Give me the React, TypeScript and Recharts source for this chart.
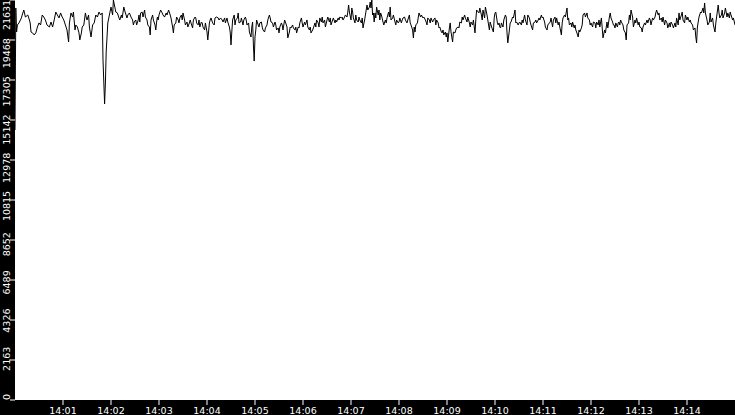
import React from 'react';
import { LineChart, Line, XAxis, YAxis, CartesianGrid } from 'recharts';

// sample times, seconds after 14:00:00
const sampleSecs = [
  0, 1, 2, 3, 5, 8, 9, 11, 13, 16,
  18, 19, 20, 22, 24, 26, 28, 30, 32, 34,
  36, 38, 40, 43, 45, 47, 49, 51, 53, 55,
  57, 59, 61, 63, 65, 67, 68, 70, 72, 73,
  75, 76, 78, 80, 81, 83, 84, 86, 88, 89,
  90, 92, 93, 95, 97, 99, 101, 103, 105, 107,
  109, 110, 112, 113, 114, 116, 118, 120, 122, 123,
  125, 126, 128, 130, 131, 133, 134, 136, 138, 140,
  141, 143, 145, 147, 148,
  149, 151, 152, 154, 155, 156, 157, 159, 160, 162,
  163, 165, 166, 168, 169, 170, 172, 173, 175, 176,
  177, 178, 179, 180, 182, 184, 185, 187, 189, 190,
  192, 194, 195, 197, 198, 199, 201, 202, 204, 205,
  206, 208, 209, 210, 212, 213, 215, 216, 218, 219,
  220, 222, 223, 225, 226, 227, 229, 230, 231, 233,
  234, 235, 237, 238, 240, 241, 243, 244, 245, 247,
  249, 250, 252, 254, 255, 257, 259, 260, 262, 263,
  265, 266, 268, 269, 270, 271, 272, 274, 275, 276,
  278, 279, 280, 282, 283, 285, 286, 288, 289, 290,
  292, 293, 295, 296, 297, 298, 299,
  300, 301, 302, 304, 305, 306, 308, 309, 310, 312,
  313, 315, 316, 318, 319, 320, 322, 323, 325, 326,
  327, 329, 330, 331, 333, 334, 335, 337, 338, 340,
  341, 343, 344, 345, 347, 348, 350, 351, 352, 354,
  355, 356, 358, 359, 360, 362, 363, 365, 366, 368,
  369, 370, 372, 373, 375, 376, 377, 379, 380, 381,
  383, 384, 385, 387, 388, 390, 391, 393, 394, 395,
  397, 398, 400, 401, 402, 404, 405, 406, 408, 409,
  410, 412, 413, 415, 416, 417, 418, 420, 421, 422,
  423, 425, 426, 427, 429, 430, 431, 433, 434, 435,
  437, 438, 440, 441, 443, 444, 445, 446, 447, 448,
  449, 450, 451, 452, 454, 455, 456, 457, 458, 460,
  461, 463, 464, 465, 467, 468, 469, 470, 472, 473,
  475, 476, 477, 479, 480, 481, 483, 484, 485, 487,
  488, 490, 491, 493, 494, 495, 497, 498, 499, 500,
  501, 503, 504, 505, 507, 508, 510, 511, 513, 514,
  515, 516, 518, 519, 520, 522, 523, 525, 526, 527,
  529, 530, 531, 533, 534, 535, 536, 538, 539, 540,
  541, 543, 544, 545, 547, 548, 550, 551, 552, 554,
  555, 556, 558, 559, 560, 562, 563, 565, 566, 568,
  569, 570, 572, 573, 575, 576, 577, 579, 580, 581,
  583, 584, 585, 587, 588, 590, 591, 593, 594, 595,
  597, 598,
  599, 600, 601, 603, 604, 605, 606, 607, 608, 610,
  611, 613, 614, 615, 616, 618, 619, 620, 622, 623,
  625, 626, 627, 629, 630, 631, 633, 634, 635, 637,
  638, 640, 641, 643, 644, 645, 647, 648, 650, 651,
  652, 654, 655, 656, 658, 659, 660, 662, 663, 665,
  666, 668, 669, 670, 672, 673, 675, 676, 677, 679,
  680, 681, 683, 684, 685, 687, 688, 690, 691, 692,
  693, 695, 696, 697, 699, 700, 701, 702, 704, 705,
  706, 708, 709, 710, 712, 713, 715, 716, 718, 719,
  720, 722, 723, 725, 726, 727, 729, 730, 731, 733,
  734, 735, 737, 738, 740, 741, 743, 744, 745, 747,
  748,
  749, 750, 751, 753, 754, 755, 756, 757, 758, 760,
  761, 763, 764, 765, 767, 768, 769, 770, 772, 773,
  775, 776, 777, 779, 780, 781, 783, 784, 785, 787,
  788, 790, 791, 793, 794, 795, 797, 798, 800, 801,
  802, 804, 805, 806, 808, 809, 810, 812, 813, 815,
  816, 818, 819, 820, 822, 823, 825, 826, 827, 829,
  830, 831, 833, 834, 835, 837, 838, 840, 841, 843,
  844, 845, 847, 848, 850, 851, 852, 853, 854, 855,
  857, 858, 860, 861, 862, 863, 865, 866, 868, 869,
  870, 872, 873, 875, 876, 877, 879, 880, 881, 883,
  884, 885, 887, 888, 890, 891, 893, 894, 895, 897,
  898, 900,
];

const sampleValues = [
  14600, 21200, 19900, 20280, 20390, 20660, 20820, 21090, 20710, 20820,
  20550, 20390, 19900, 19850, 19740, 19850, 20170, 20390, 20280, 20820,
  20710, 20550, 20280, 20170, 20440, 20170, 20550, 20980, 20820, 20660,
  20930, 20710, 20550, 20280, 20010, 19360, 20390, 20930, 20710, 20980,
  20010, 20280, 20170, 19850, 19470, 19850, 20170, 20280, 20930, 20710,
  20550, 20820, 20170, 19630, 20280, 20390, 20820, 20710, 20980, 20820,
  20930, 18390, 16010, 17140, 18820, 20390, 20820, 21250, 20820, 21631,
  21200, 20980, 20930, 20660, 20550, 20820, 20660, 21250, 20930, 20660,
  20820, 20930, 20710, 20550, 20280,
  20440, 20550, 20280, 20550, 20820, 20440, 20930, 20980, 20710, 21090,
  20710, 20550, 20280, 20170, 19740, 20550, 20820, 20550, 20280, 20010,
  20440, 20710, 20550, 20820, 21090, 20930, 20820, 20710, 20930, 20820,
  21090, 20820, 20660, 20170, 19850, 20280, 20390, 20710, 20550, 20390,
  20660, 20820, 20550, 20930, 20550, 20280, 20440, 20170, 20390, 20550,
  20390, 20120, 20550, 20710, 20660, 20390, 20280, 20550, 20170, 20440,
  20390, 20170, 20010, 20390, 19900, 19470, 20390, 20550, 20660, 20390,
  20280, 20660, 20710, 20660, 20550, 20660, 20550, 20440, 20660, 20390,
  20660, 20440, 20170, 19900, 19200, 19900, 20550, 20820, 20280, 20550,
  20660, 20930, 20390, 20440, 20660, 20280, 20550, 20710, 20550, 20280,
  20390, 19900, 19630, 20170, 20440, 19200, 18330,
  19630, 20010, 20550, 20280, 20170, 20390, 20440, 20170, 20010, 19900,
  20120, 20280, 20550, 20820, 20660, 20440, 20390, 20170, 20440, 20280,
  20010, 20120, 19850, 20170, 20390, 20280, 20010, 20550, 20440, 20170,
  19580, 19900, 20170, 20120, 20280, 20120, 20010, 20170, 19850, 20170,
  20120, 20390, 20660, 20390, 20170, 20440, 20280, 20550, 20170, 20010,
  20170, 19850, 20010, 20120, 20390, 20170, 20550, 20390, 20170, 20660,
  20440, 20710, 20390, 20550, 20170, 20550, 20710, 20440, 20660, 20280,
  20550, 20660, 20390, 20550, 20440, 20660, 20550, 20710, 20660, 20710,
  20550, 20710, 20820, 20710, 20980, 21360, 20980, 20550, 21200, 20980,
  20660, 20390, 20820, 20550, 20440, 20710, 20550, 20390, 20660, 20120,
  20550, 20820, 21360, 21090, 21250, 21520, 21200, 21630, 20820, 20930,
  20440, 20930, 20660, 21250, 20820, 21090, 20550, 20930, 20820, 20440,
  20280, 20550, 20390, 20660, 20980, 20710, 21250, 20550, 20660, 20820,
  20440, 20280, 20550, 20390, 20440, 20660, 20390, 20550, 20660, 20710,
  20550, 20390, 20550, 20820, 20390, 20280, 20010, 19580, 20170, 19900,
  20280, 20390, 20660, 20930, 20710, 20820, 20660, 20710, 20550, 20440,
  20280, 20660, 20550, 20390, 20660, 20440, 20550, 20660, 20280, 20550,
  20390, 20120, 20170, 19900, 19850, 20010, 19740, 19900, 19630, 19850,
  19360, 20120, 20390, 19900, 19360, 19900, 19850, 20010, 20120, 20170,
  20120, 20440, 20390, 20710, 20550, 20820, 20660, 20440, 20710, 20390,
  20170, 20440, 20280, 20550, 19850, 20550, 21090, 20980, 20930, 21200,
  20820, 20550, 21090, 20660, 21250, 20820, 20550, 20010, 20440, 20280,
  20010, 19900,
  20660, 20930, 20980, 20390, 20280, 20390, 20170, 20120, 20390, 20170,
  20550, 20820, 20710, 19850, 19310, 20010, 20390, 20440, 20710, 20660,
  21090, 20390, 20440, 20280, 20390, 20440, 20280, 20550, 20390, 20820,
  20550, 20280, 20820, 20660, 20440, 20280, 20010, 20390, 20440, 20550,
  20390, 20550, 20660, 20550, 20820, 20660, 20710, 20440, 20170, 20010,
  20280, 20390, 20440, 20660, 20170, 20550, 20710, 20390, 20660, 20280,
  20440, 20170, 19740, 20390, 20660, 20820, 20710, 21200, 20550, 20660,
  20280, 20390, 20170, 20440, 20120, 20280, 20010, 19900, 19630, 20010,
  19900, 20120, 20280, 20820, 20930, 20710, 20930, 20660, 20550, 20280,
  20390, 20170, 20440, 20390, 20120, 20440, 20280, 20550, 20170, 20660,
  20120, 19580, 20010, 19850, 20440, 20120, 20710, 20930, 20660, 20440,
  20280,
  20280, 20120, 20390, 20170, 20390, 20440, 20280, 20550, 20440, 20280,
  20010, 19850, 19470, 20280, 20390, 20820, 20550, 21090, 20710, 20170,
  20550, 20390, 20660, 20280, 20440, 20170, 20120, 19900, 20170, 20390,
  20280, 20550, 20390, 20660, 20550, 20280, 20660, 20550, 20710, 20930,
  21090, 20820, 20930, 20550, 20660, 20440, 20710, 20280, 20550, 20390,
  20120, 20390, 20170, 20440, 20280, 20120, 20390, 20170, 20660, 20280,
  20930, 20550, 20820, 20980, 20550, 20390, 20820, 20550, 20710, 20440,
  20550, 20390, 20280, 20010, 20120, 19630, 19310, 20170, 20440, 20710,
  20980, 20930, 21200, 20930, 21470, 20930, 20550, 20280, 20440, 20930,
  20440, 20660, 20280, 19900, 20390, 20710, 21360, 20930, 20660, 20820,
  21090, 20660, 20930, 21200, 20710, 20930, 20660, 20980, 20820, 20550,
  20660, 20280,
];

const yTicks = [0, 2163, 4326, 6489, 8652, 10815, 12978, 15142, 17305, 19468, 21631];
const xTicks = [60, 120, 180, 240, 300, 360, 420, 480, 540, 600, 660, 720, 780, 840];
const xTickLabels = ['14:01', '14:02', '14:03', '14:04', '14:05', '14:06', '14:07', '14:08', '14:09', '14:10', '14:11', '14:12', '14:13', '14:14'];

const Y_MAX = 21631;
const FONT = '"DejaVu Sans", sans-serif';

const data = sampleSecs.map((t, i) => ({ t, value: sampleValues[i] }));

// rotated labels; they sit on a slightly tighter band than the tick marks
const YTick = (props: any) => {
  const { payload } = props;
  const cy = 397 - 382 * (payload.value / Y_MAX);
  return (
    <text
      transform={`translate(9.5, ${cy}) rotate(-90)`}
      textAnchor="middle"
      fill="#fff"
      fontSize={9.5}
      fontFamily={FONT}
    >
      {payload.value}
    </text>
  );
};

const App: React.FC = () => {
  return (
    <div style={{ position: 'absolute', left: 0, top: 0, width: 735, height: 415, background: '#000' }}>
      <LineChart width={735} height={415} data={data} margin={{ top: 0, right: 0, bottom: 0, left: 0 }}>
        <CartesianGrid fill="#fff" stroke="#fff" horizontal={false} vertical={false} />
        <XAxis
          dataKey="t"
          type="number"
          domain={[0, 900]}
          ticks={xTicks}
          interval={0}
          tickFormatter={(v) => xTickLabels[xTicks.indexOf(v)]}
          height={15}
          axisLine={false}
          tickSize={5}
          tickLine={{ stroke: '#fff' }}
          tick={{ fill: '#fff', fontSize: 9.5, fontFamily: FONT }}
        />
        <YAxis
          type="number"
          domain={[0, Y_MAX]}
          ticks={yTicks}
          interval={0}
          width={15}
          axisLine={false}
          tickSize={5}
          tickLine={{ stroke: '#fff' }}
          tick={<YTick />}
        />
        <Line type="linear" dataKey="value" stroke="#000" strokeWidth={1} dot={false} isAnimationActive={false} />
      </LineChart>
    </div>
  );
};

export default App;
